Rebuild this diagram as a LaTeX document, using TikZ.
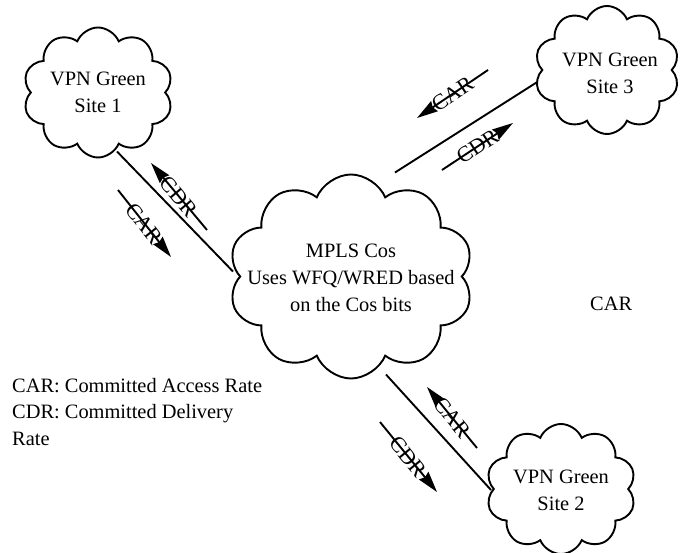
\documentclass[tikz,border=0pt]{standalone}
\usepackage{fontspec}
\setmainfont{Liberation Serif}
\usetikzlibrary{shapes.symbols,arrows.meta,backgrounds}

\tikzset{
  x=1pt, y=-1pt,
  txt/.style={font=\fontsize{20.4}{27}\selectfont, align=center},
  cloudtext/.style={txt, inner sep=0pt},
  sitecloud/.style={cloud, cloud puffs=10, cloud puff arc=135, shape border rotate=18,
    draw, line width=1.9pt, fill=white, inner sep=0pt, aspect=1.15,
    minimum width=150pt, minimum height=130pt},
  corecloud/.style={sitecloud, minimum width=245pt, minimum height=204pt},
  link/.style={line width=1.9pt},
  rate/.style={line width=1.9pt, -{Stealth[length=21pt,width=12pt,inset=2pt]}},
  ratelabel/.style={sloped, inner sep=0pt, font=\fontsize{22}{22}\selectfont}
}

\begin{document}
\begin{tikzpicture}
\useasboundingbox (0,0) rectangle (680,553);

% clouds, with their texts set as centred labels
\node[sitecloud, label={[cloudtext]center:VPN Green\\Site 1}] (site1) at (98,92.5) {};
\node[sitecloud, minimum width=145pt, minimum height=128pt,
      label={[cloudtext, xshift=3pt, yshift=-3pt]center:VPN Green\\Site 3}] (site3) at (607,70) {};
\node[sitecloud, label={[cloudtext, yshift=-1pt]center:VPN Green\\Site 2}] (site2) at (561,489) {};
\node[corecloud, label={[cloudtext, yshift=-1pt]center:MPLS Cos\\Uses WFQ/WRED based\\on the Cos bits}] (core) at (351,276.5) {};

% links between the sites and the core, drawn behind the clouds
\begin{scope}[on background layer]
  \draw[link] ([shift={(19,59)}]site1.center) -- ([shift={(-118,-5)}]core.center);
  \draw[link] ([shift={(-65,9)}]site3.center) -- ([shift={(44,-104)}]core.center);
  \draw[link] ([shift={(35,98)}]core.center) -- ([shift={(-70,1)}]site2.center);
\end{scope}

% rate arrows beside each link
\coordinate (s1cdrA) at (207,230);  \coordinate (s1cdrB) at (151,163);
\coordinate (s1carA) at (118,190);  \coordinate (s1carB) at (171,257);
\coordinate (s3carA) at (488,70);   \coordinate (s3carB) at (417,118);
\coordinate (s3cdrA) at (442,170);  \coordinate (s3cdrB) at (513,123);
\coordinate (s2carA) at (477,448);  \coordinate (s2carB) at (427,387);
\coordinate (s2cdrA) at (380,422);  \coordinate (s2cdrB) at (437,492);

\draw[rate] (s1cdrA) -- node[ratelabel] (l1) {CDR} (s1cdrB);
\draw[rate] (s1carA) -- node[ratelabel] (l2) {CAR} (s1carB);
\draw[rate] (s3carA) -- node[ratelabel] (l3) {CAR} (s3carB);
\draw[rate] (s3cdrA) -- node[ratelabel] (l4) {CDR} (s3cdrB);
\draw[rate] (s2carA) -- node[ratelabel] (l5) {CAR} (s2carB);
\draw[rate] (s2cdrA) -- node[ratelabel] (l6) {CDR} (s2cdrB);

% free-standing texts (the legend is placed by the baseline of its last line)
\node[txt, anchor=base west, inner sep=0pt] (car) at (590,311) {CAR};
\node[txt, align=left, anchor=base west, inner sep=0pt, font=\fontsize{20.4}{26.5}\selectfont] (legend) at (12,445)
  {CAR: Committed Access Rate\\CDR: Committed Delivery\\Rate};
\end{tikzpicture}
\end{document}
